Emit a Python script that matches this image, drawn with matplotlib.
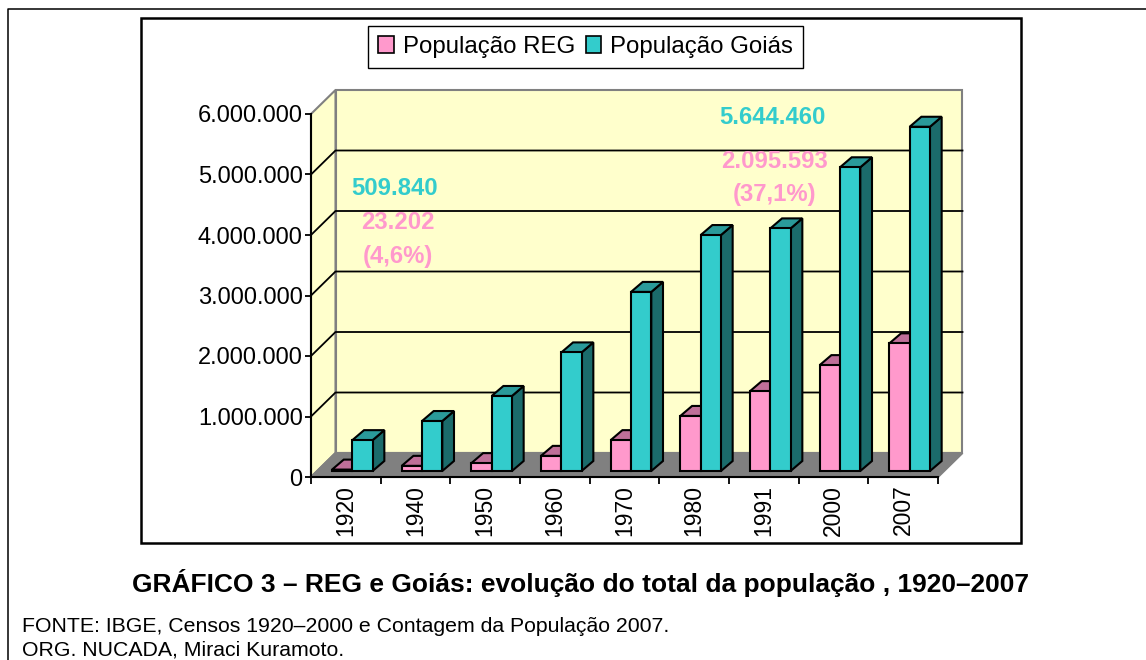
"""Population of REG and Goias, 1920-2007, drawn as a fake-3D column chart."""

import matplotlib

matplotlib.use("Agg")
import matplotlib.pyplot as plt
from matplotlib.lines import Line2D
from matplotlib.patches import Patch, Polygon, Rectangle

years = ["1920", "1940", "1950", "1960", "1970", "1980", "1991", "2000", "2007"]
pop_reg = [23202, 85000, 130000, 250000, 510000, 910000, 1320000, 1750000, 2110000]
pop_goias = [509840, 826000, 1240000, 1960000, 2960000, 3900000, 4010000, 5020000, 5690000]
y_ticks = [0, 1000000, 2000000, 3000000, 4000000, 5000000, 6000000]
y_labels = ["0", "1.000.000", "2.000.000", "3.000.000", "4.000.000", "5.000.000", "6.000.000"]

W, H = 1146, 660
PINK = "#FF99CC"
PINK_TOP = "#BF6F99"
TEAL = "#33CCCC"
TEAL_TOP = "#2A9A9A"
TEAL_SIDE = "#1B6B6B"

plt.rcParams["font.family"] = ["Liberation Sans", "DejaVu Sans"]

fig = plt.figure(figsize=(W / 100, H / 100), dpi=100)
# front plane of the plot box, in pixels: x 311-938, y 477-114
ax = fig.add_axes([311 / W, 1 - 477 / H, 627 / W, 363 / H])
ax.set_xlim(0, len(years))
ax.set_ylim(0, 6000000)
ax.patch.set_visible(False)
for s in ["top", "right"]:
    ax.spines[s].set_visible(False)
ax.spines["left"].set_linewidth(1.5)
ax.spines["bottom"].set_linewidth(1.5)

PX = len(years) / 627
PY = 6000000 / 363


def poly(points, face, edge="black", lw=1.5, z=2):
    ax.add_patch(Polygon(points, closed=True, facecolor=face, edgecolor=edge, linewidth=lw,
                         joinstyle="miter", clip_on=False, zorder=z))


def column(x0, width, value, front, top, side, z):
    # the front face sits 6 px into the box and is 12 px deep
    ox, oy = 6.5 * PX, 6 * PY
    dx, dy = 11.7 * PX, 10 * PY
    x1 = x0 + width
    poly([(x1 + ox, oy), (x1 + ox + dx, oy + dy), (x1 + ox + dx, oy + value + dy), (x1 + ox, oy + value)], side, z=z)
    poly([(x0 + ox, oy + value), (x0 + ox + dx, oy + value + dy), (x1 + ox + dx, oy + value + dy), (x1 + ox, oy + value)], top, z=z)
    poly([(x0 + ox, oy), (x1 + ox, oy), (x1 + ox, oy + value), (x0 + ox, oy + value)], front, z=z)


# back wall, side wall, floor
depth_x, depth_y = 24.5 * PX, 24 * PY
n = len(years)
poly([(depth_x, depth_y), (n + depth_x, depth_y), (n + depth_x, 6000000 + depth_y), (depth_x, 6000000 + depth_y)],
     "#FFFFCC", edge="#808080", z=0)
poly([(0, 0), (depth_x, depth_y), (depth_x, 6000000 + depth_y), (0, 6000000)], "#FFFFCC", edge="#808080", z=0)
poly([(0, 0), (n, 0), (n + depth_x, depth_y), (depth_x, depth_y)], "#808080", edge="#808080", z=0)

for v in y_ticks[1:-1]:
    ax.plot([0, depth_x, n + depth_x], [v, v + depth_y, v + depth_y], color="black", lw=1.3, clip_on=False, zorder=1)

bar_w = 20.3 * PX
for i in range(n):
    left = i + 0.5 - bar_w
    column(left, bar_w, pop_reg[i], PINK, PINK_TOP, PINK_TOP, 2 + i)
    column(left + bar_w, bar_w, pop_goias[i], TEAL, TEAL_TOP, TEAL_SIDE, 2 + i)

ax.set_yticks(y_ticks)
ax.set_yticklabels(y_labels, fontsize=17)
ax.set_xticks(range(n + 1))
ax.set_xticklabels([])
ax.set_xticks([i + 0.5 for i in range(n)], minor=True)
ax.set_xticklabels(years, minor=True, rotation=90, fontsize=16.5)
ax.tick_params(axis="x", which="minor", length=0, pad=5.5)
ax.tick_params(axis="x", which="major", length=5, width=1.3)
ax.tick_params(axis="y", length=4, width=1.3, pad=2)

# value notes on the first and last year
for x, y, txt, c in [
    (394.5, 188, "509.840", TEAL),
    (398, 222, "23.202", PINK),
    (398, 256, "(4,6%)", PINK),
    (772.5, 117, "5.644.460", TEAL),
    (774.5, 162, "2.095.593", PINK),
    (774.5, 195, "(37,1%)", PINK),
]:
    fig.text(x / W, 1 - y / H, txt, color=c, fontsize=17.2, fontweight="bold", ha="center", va="center", zorder=30)

handles = [Patch(facecolor=PINK, edgecolor="black", linewidth=1.2, label="População REG"),
           Patch(facecolor=TEAL, edgecolor="black", linewidth=1.2, label="População Goiás")]
fig.legend(handles=handles, ncol=2, loc="center", bbox_to_anchor=(585.5 / W, 1 - 47 / H), fontsize=17.3,
           frameon=True, fancybox=False, framealpha=1, edgecolor="black",
           handlelength=0.66, handleheight=0.66, handletextpad=0.36, columnspacing=0.45,
           borderpad=0.42, borderaxespad=0)

# frames around the chart and the page block
fig.add_artist(Rectangle((141 / W, 1 - 543 / H), 880 / W, 525 / H, transform=fig.transFigure,
                         fill=False, edgecolor="black", linewidth=1.8))
fig.add_artist(Line2D([7.5 / W, 7.5 / W, 1], [0, 1 - 9 / H, 1 - 9 / H], color="black", linewidth=1.1))

fig.text(581 / W, 1 - 583 / H, "GRÁFICO 3 – REG e Goiás: evolução do total da população , 1920–2007",
         fontsize=19, fontweight="bold", ha="center", va="center")
fig.text(22 / W, 1 - 626 / H, "FONTE: IBGE, Censos 1920–2000 e Contagem da População 2007.",
         fontsize=15.3, ha="left", va="center")
fig.text(22 / W, 1 - 650 / H, "ORG. NUCADA, Miraci Kuramoto.", fontsize=15.3, ha="left", va="center")

fig.savefig("out.png", dpi=100)
